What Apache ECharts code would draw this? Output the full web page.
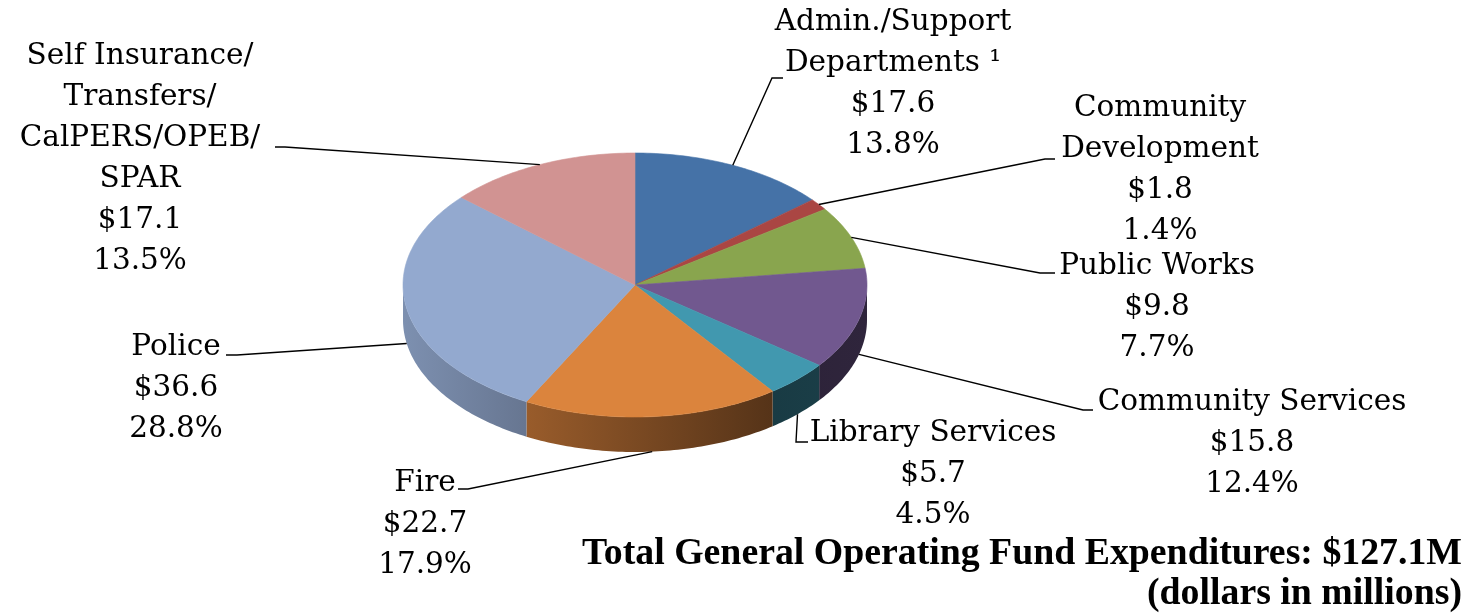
<!DOCTYPE html>
<html>
<head>
<meta charset="utf-8">
<title>General Operating Fund Expenditures</title>
<script src="https://cdn.jsdelivr.net/npm/echarts@6.0.0/dist/echarts.min.js"></script>
<style>
html,body{margin:0;padding:0;background:#fff;}
#chart{width:1473px;height:614px;}
</style>
</head>
<body>
<div id="chart"></div>
<script>
// slices, clockwise from 12 o'clock
var names = ['Admin./Support\nDepartments \u00b9', 'Community\nDevelopment', 'Public Works', 'Community Services',
  'Library Services', 'Fire', 'Police', 'Self Insurance/\nTransfers/\nCalPERS/OPEB/\nSPAR'];
var values = [17.6, 1.8, 9.8, 15.8, 5.7, 22.7, 36.6, 17.1];
var totalText = 'Total General Operating Fund Expenditures: $127.1M';
var unitText = '(dollars in millions)';

var colors = ['#4572A7','#AA4643','#89A54E','#71588F','#4198AF','#DB843D','#93A9CF','#D19392'];

// pie geometry
var cx = 635, cy = 285, rx = 232, ry = 132, depth = 35;

// label block [center x, top y] and leader [elbow x, elbow y, end x, end y]
var labelPos = [[893,2],[1160,88],[1157,246],[1252,382],[933,413],[425,463],[176,327],[140,36]];
var leaderPos = [[772,78,783,78],[1045,159,1055,159],[1040,273,1055,273],[1083,410,1093,410],
  [796,442,808,442],[468,489,458,489],[237,355,226,355],[285,147,275,147]];

var total = values.reduce(function(a,b){return a+b;},0);
var startAng = [], acc = 0;
for (var k=0;k<values.length;k++){ startAng.push(acc/total*360); acc += values[k]; }

var labelFont = '29.5px "DejaVu Serif"';

function pt(a, dy){
  var r = a*Math.PI/180;
  return [cx + rx*Math.sin(r), cy - ry*Math.cos(r) + (dy||0)];
}
function arc(a1, a2, dy){
  var n = Math.max(2, Math.ceil(a2-a1)), p = [];
  for (var i=0;i<=n;i++) p.push(pt(a1+(a2-a1)*i/n, dy));
  return p;
}
function shade(hex, f){
  var r = parseInt(hex.substr(1,2),16), g = parseInt(hex.substr(3,2),16), b = parseInt(hex.substr(5,2),16);
  return 'rgb(' + Math.round(r*f) + ',' + Math.round(g*f) + ',' + Math.round(b*f) + ')';
}

function renderItem(params, api){
  var i = params.dataIndex;
  var v = api.value(0);
  var a1 = startAng[i], a2 = a1 + v/total*360;
  var col = colors[i];
  var children = [];

  // side wall, only front half is visible
  var s1 = Math.max(a1, 90), s2 = Math.min(a2, 270);
  if (s2 > s1){
    var side = arc(s1, s2, 0).concat(arc(s1, s2, depth).reverse());
    children.push({
      type: 'polygon',
      shape: {points: side},
      style: {
        fill: {type:'linear', x:cx-rx, y:0, x2:cx+rx, y2:0, global:true,
          colorStops:[{offset:0,color:shade(col,0.85)},{offset:0.265,color:shade(col,0.7)},
                      {offset:0.8,color:shade(col,0.39)},{offset:1,color:shade(col,0.42)}]},
        stroke: 'none'
      }
    });
  }

  // top face
  children.push({
    type: 'polygon',
    shape: {points: [[cx,cy]].concat(arc(a1, a2, 0))},
    style: {fill: col, stroke: col, lineWidth: 0.6}
  });

  // leader line
  var mid = (a1+a2)/2;
  var front = mid > 90 && mid < 270;
  var L = leaderPos[i];
  children.push({
    type: 'polyline',
    shape: {points: [pt(mid, front ? depth : 0), [L[0],L[1]], [L[2],L[3]]]},
    style: {stroke: '#000', lineWidth: 1.4, fill: null}
  });

  // label
  var pct = (v/total*100).toFixed(1);
  children.push({
    type: 'text',
    style: {
      text: names[i] + '\n$' + v.toFixed(1) + '\n' + pct + '%',
      x: labelPos[i][0], y: labelPos[i][1],
      align: 'center', verticalAlign: 'top',
      font: labelFont, lineHeight: 41, fill: '#000'
    }
  });

  return {type: 'group', children: children};
}

var chart = echarts.init(document.getElementById('chart'));
chart.setOption({
  animation: false,
  backgroundColor: '#fff',
  series: [{
    type: 'custom',
    coordinateSystem: 'none',
    renderItem: renderItem,
    data: values.map(function(v){ return [v]; })
  }],
  graphic: [
    {type:'text', x:1462, y:554, style:{text: totalText, align:'right', verticalAlign:'middle',
      font:'bold 37.8px "Liberation Serif"', fill:'#000'}},
    {type:'text', x:1462, y:594, style:{text: unitText, align:'right', verticalAlign:'middle',
      font:'bold 37.8px "Liberation Serif"', fill:'#000'}}
  ]
});
</script>
</body>
</html>
